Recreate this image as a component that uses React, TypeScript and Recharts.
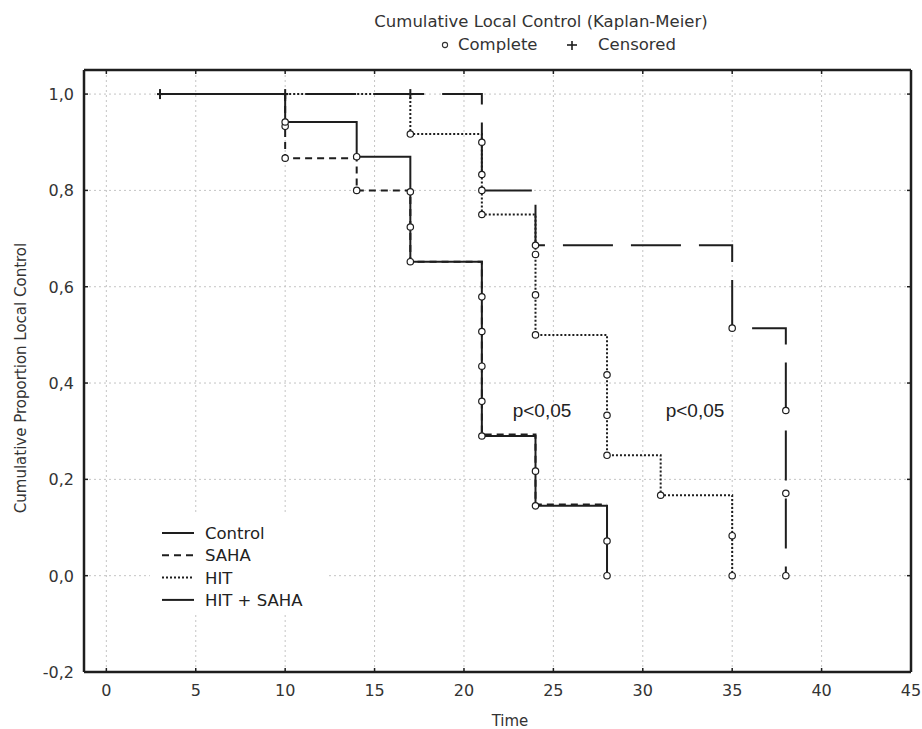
import { ComposedChart, Line, XAxis, YAxis, CartesianGrid } from 'recharts';

const INK = '#1e1e1e';
const TEXT = '#333';
const FONT = '"DejaVu Sans", Verdana, sans-serif';
const W = 922;
const H = 729;

const xTicks = [0, 5, 10, 15, 20, 25, 30, 35, 40, 45];
const yTicks = [-0.2, 0, 0.2, 0.4, 0.6, 0.8, 1.0];

// Kaplan-Meier steps. mark: 'o' complete, '+' censored, '' none
const controlTime = [3, 10, 14, 17, 17, 17, 21, 21, 21, 21, 21, 24, 24, 28, 28];
const controlProp = [1, 0.942, 0.87, 0.797, 0.724, 0.652, 0.579, 0.507, 0.435, 0.362, 0.29, 0.217, 0.145, 0.072, 0];
const controlMark = ['+', 'o', 'o', 'o', 'o', 'o', 'o', 'o', 'o', 'o', 'o', 'o', 'o', 'o', 'o'];

const sahaTime = [10, 10, 10, 14, 17, 21, 24, 28];
const sahaProp = [1, 0.933, 0.867, 0.8, 0.652, 0.293, 0.148, 0.148];
const sahaMark = ['', 'o', 'o', 'o', '', '', '', ''];

const hitTime = [10, 17, 21, 21, 24, 24, 24, 28, 28, 28, 31, 35, 35];
const hitProp = [1, 0.917, 0.833, 0.75, 0.667, 0.583, 0.5, 0.417, 0.333, 0.25, 0.167, 0.083, 0];
const hitMark = ['', 'o', 'o', 'o', 'o', 'o', 'o', 'o', 'o', 'o', 'o', 'o', 'o'];

const hitSahaTime = [10, 17, 21, 21, 24, 35, 38, 38, 38];
const hitSahaProp = [1, 1, 0.9, 0.8, 0.686, 0.514, 0.343, 0.171, 0];
const hitSahaMark = ['+', '+', 'o', 'o', 'o', 'o', 'o', 'o', 'o'];

const legendLabels = ['Control', 'SAHA', 'HIT', 'HIT + SAHA'];
const legendDash = [undefined, '7 5', '2 2', undefined];

type Pt = { t: number; s: number; m: string };
const build = (time: number[], prop: number[], mark: string[]): Pt[] =>
    time.map((t, i) => ({ t, s: prop[i], m: mark[i] }));

const controlData = build(controlTime, controlProp, controlMark);
const sahaData = build(sahaTime, sahaProp, sahaMark);
const hitData = build(hitTime, hitProp, hitMark);
const hitSahaData = build(hitSahaTime, hitSahaProp, hitSahaMark);

const fmtY = (v: number) => v.toFixed(1).replace('.', ',');

// eslint-disable-next-line @typescript-eslint/no-explicit-any
const renderDot = (props: any) => {
    const { cx, cy, payload, index } = props;
    const key = `d-${index}-${cx}-${cy}`;
    if (payload?.m === 'o') {
        return <circle key={key} cx={cx} cy={cy} r={3.2} fill="#fff" stroke={INK} strokeWidth={1.2} />;
    }
    if (payload?.m === '+') {
        return (
            <g key={key} stroke={INK} strokeWidth={2}>
                <line x1={cx} x2={cx} y1={cy - 5} y2={cy + 5} />
                <line x1={cx - 3} x2={cx + 3} y1={cy} y2={cy} />
            </g>
        );
    }
    return <g key={key} />;
};

// ticks point into the plot, labels outside
// eslint-disable-next-line @typescript-eslint/no-explicit-any
const BottomTick = (p: any) => (
    <g>
        <line x1={p.x} x2={p.x} y1={p.y} y2={p.y - 4} stroke={INK} strokeWidth={1.5} />
        <text x={p.x} y={p.y + 24} textAnchor="middle" fontSize={16} fill={TEXT} fontFamily={FONT}>
            {p.payload.value}
        </text>
    </g>
);
// eslint-disable-next-line @typescript-eslint/no-explicit-any
const TopTick = (p: any) => (
    <line x1={p.x} x2={p.x} y1={p.y} y2={p.y + 4} stroke={INK} strokeWidth={1.5} />
);
// eslint-disable-next-line @typescript-eslint/no-explicit-any
const LeftTick = (p: any) => (
    <g>
        <line x1={p.x} x2={p.x + 4} y1={p.y} y2={p.y} stroke={INK} strokeWidth={1.5} />
        <text x={p.x - 10} y={p.y + 6} textAnchor="end" fontSize={16} fill={TEXT} fontFamily={FONT}>
            {fmtY(p.payload.value)}
        </text>
    </g>
);
// eslint-disable-next-line @typescript-eslint/no-explicit-any
const RightTick = (p: any) => (
    <line x1={p.x} x2={p.x - 4} y1={p.y} y2={p.y} stroke={INK} strokeWidth={1.5} />
);

const frame = { stroke: INK, strokeWidth: 2.5 };

export default function App() {
    return (
        <div style={{ position: 'absolute', left: 0, top: 0, width: W, height: H, background: '#fff' }}>
            <ComposedChart width={W} height={H} margin={{ top: 69, right: 10, left: 0, bottom: 0 }}>
                <CartesianGrid stroke="#c4c4c4" strokeDasharray="2 3" />
                <XAxis
                    type="number"
                    dataKey="t"
                    domain={[-1.25, 45]}
                    ticks={xTicks}
                    interval={0}
                    allowDataOverflow
                    height={57}
                    tickSize={0}
                    tickMargin={0}
                    tickLine={false}
                    axisLine={frame}
                    tick={BottomTick}
                />
                <XAxis
                    xAxisId="top"
                    orientation="top"
                    type="number"
                    dataKey="t"
                    domain={[-1.25, 45]}
                    ticks={xTicks}
                    interval={0}
                    allowDataOverflow
                    height={1}
                    tickSize={0}
                    tickMargin={0}
                    tickLine={false}
                    axisLine={frame}
                    tick={TopTick}
                />
                <YAxis
                    type="number"
                    domain={[-0.2, 1.05]}
                    ticks={yTicks}
                    interval={0}
                    allowDataOverflow
                    width={84}
                    tickSize={0}
                    tickMargin={0}
                    tickLine={false}
                    axisLine={frame}
                    tick={LeftTick}
                />
                <YAxis
                    yAxisId="right"
                    orientation="right"
                    type="number"
                    domain={[-0.2, 1.05]}
                    ticks={yTicks}
                    interval={0}
                    allowDataOverflow
                    width={1}
                    tickSize={0}
                    tickMargin={0}
                    tickLine={false}
                    axisLine={frame}
                    tick={RightTick}
                />
                {/* unstroked twin of Control, only so the top and right frame axes have a series */}
                <Line xAxisId="top" yAxisId="right" data={controlData} dataKey="s" type="stepAfter"
                    stroke="none" dot={false} activeDot={false} isAnimationActive={false} />
                <Line data={sahaData} dataKey="s" name="SAHA" type="stepAfter" stroke={INK} strokeWidth={2}
                    strokeDasharray="7 5" dot={renderDot} activeDot={false} isAnimationActive={false} />
                <Line data={hitSahaData} dataKey="s" name="HIT + SAHA" type="stepAfter" stroke={INK} strokeWidth={2}
                    strokeDasharray="50 18" strokeDashoffset={47} dot={renderDot} activeDot={false}
                    isAnimationActive={false} />
                <Line data={hitData} dataKey="s" name="HIT" type="stepAfter" stroke={INK} strokeWidth={2}
                    strokeDasharray="2 2" dot={renderDot} activeDot={false} isAnimationActive={false} />
                <Line data={controlData} dataKey="s" name="Control" type="stepAfter" stroke={INK} strokeWidth={2}
                    dot={renderDot} activeDot={false} isAnimationActive={false} />
            </ComposedChart>

            <svg width={W} height={H} style={{ position: 'absolute', left: 0, top: 0, pointerEvents: 'none' }}
                fontFamily={FONT}>
                {/* title and marker key */}
                <text x={541} y={27} textAnchor="middle" fontSize={16.5} fill={TEXT}>
                    Cumulative Local Control (Kaplan-Meier)
                </text>
                <circle cx={445} cy={45} r={2.6} fill="#fff" stroke={TEXT} strokeWidth={1.1} />
                <text x={458} y={50} fontSize={16.5} fill={TEXT}>Complete</text>
                <g stroke={INK} strokeWidth={1.6}>
                    <line x1={567} x2={577} y1={45} y2={45} />
                    <line x1={572} x2={572} y1={41} y2={50} />
                </g>
                <text x={598} y={50} fontSize={16.5} fill={TEXT}>Censored</text>

                {/* axis titles */}
                <text x={510} y={726} textAnchor="middle" fontSize={15} fill={TEXT}>Time</text>
                <text x={26} y={378} textAnchor="middle" fontSize={15} fill={TEXT} transform="rotate(-90 26 378)">
                    Cumulative Proportion Local Control
                </text>

                {/* significance notes */}
                <text x={542} y={417} textAnchor="middle" fontSize={19} fill="#222"
                    fontFamily='"Liberation Sans", Arial, sans-serif'>p&lt;0,05</text>
                <text x={695} y={417} textAnchor="middle" fontSize={19} fill="#222"
                    fontFamily='"Liberation Sans", Arial, sans-serif'>p&lt;0,05</text>

                {/* legend */}
                <rect x={150} y={515} width={177} height={97} fill="#fff" />
                {legendLabels.map((label, i) => {
                    const cy = 533 + i * 22.3;
                    return (
                        <g key={label}>
                            <line x1={162} x2={194} y1={cy} y2={cy} stroke={INK} strokeWidth={2}
                                strokeDasharray={legendDash[i]} />
                            <text x={205} y={cy + 6} fontSize={16.5} fill="#222">{label}</text>
                        </g>
                    );
                })}
            </svg>
        </div>
    );
}
